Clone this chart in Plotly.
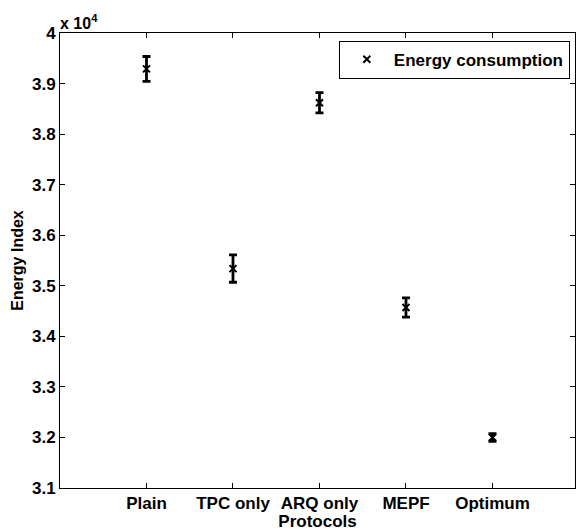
import plotly.graph_objects as go

categories = ["Plain", "TPC only", "ARQ only", "MEPF", "Optimum"]
positions = [1, 2, 3, 4, 5]
energy = [39290, 35340, 38620, 34570, 32000]
energy_err = [245, 270, 200, 190, 75]
y_ticks = [3.1, 3.2, 3.3, 3.4, 3.5, 3.6, 3.7, 3.8, 3.9, 4.0]
scale = 1e4

FONT = "Liberation Sans, Arial, Helvetica, sans-serif"

fig = go.Figure()
fig.add_trace(go.Scatter(
    x=positions,
    y=[v / scale for v in energy],
    mode="markers",
    name="Energy consumption",
    marker=dict(symbol="x-thin-open", size=7, color="black",
                line=dict(width=2, color="black")),
    error_y=dict(type="data", array=[e / scale for e in energy_err],
                 visible=True, color="black", thickness=2.8, width=4),
))

axis_common = dict(
    showline=True, linecolor="black", linewidth=1, mirror="ticks",
    ticks="inside", ticklen=5, tickwidth=1, tickcolor="black",
    showgrid=False, zeroline=False,
    tickfont=dict(family=FONT, size=17, color="black", weight="bold"),
)

fig.update_layout(
    width=576, height=531,
    margin=dict(l=60, r=1, t=33, b=43),
    paper_bgcolor="white", plot_bgcolor="white",
    showlegend=True,
    legend=dict(
        x=0.99, xanchor="right", y=0.983, yanchor="top",
        bordercolor="black", borderwidth=1, bgcolor="white",
        font=dict(family=FONT, size=17, color="black", weight="bold"),
        itemwidth=44,
    ),
    xaxis=dict(
        range=[0, 5.954],
        tickmode="array", tickvals=positions, ticktext=categories,
        title=dict(text="Protocols", standoff=0,
                   font=dict(family=FONT, size=17, color="black", weight="bold")),
        **axis_common,
    ),
    yaxis=dict(
        range=[3.1, 4.0],
        tickmode="array", tickvals=y_ticks,
        ticktext=[("%g" % t) for t in y_ticks],
        title=dict(text="Energy Index", standoff=4,
                   font=dict(family=FONT, size=16, color="black", weight="bold")),
        **axis_common,
    ),
    annotations=[dict(
        text="<b>x 10<sup>4</sup></b>", xref="paper", yref="paper",
        x=0, y=1, xanchor="left", yanchor="bottom", showarrow=False,
        xshift=-2, yshift=-1,
        font=dict(family=FONT, size=16, color="black"),
    )],
)

fig.write_html("out.html")
